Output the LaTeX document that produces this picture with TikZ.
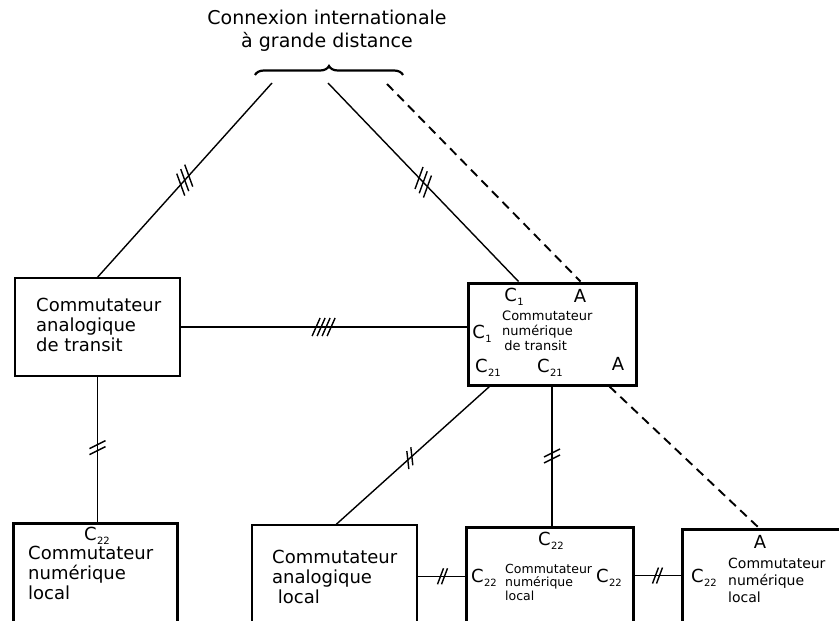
\documentclass[tikz,border=0pt]{standalone}
\usepackage{fontspec}
\setmainfont{DejaVu Sans}
\usetikzlibrary{calc,decorations.pathreplacing}
\newcommand\Cs[1]{C\kern0.3pt\raisebox{-4pt}{\fontsize{10}{10}\selectfont #1}}
\newcommand\hatchmk[6]{%
  \foreach \k in {1,...,#2}{%
    \pgfmathsetmacro\hoff{\k-(#2+1)/2}%
    \pgfmathsetmacro\hxa{\hoff*(#3)-(#5)}%
    \pgfmathsetmacro\hya{\hoff*(#4)-(#6)}%
    \pgfmathsetmacro\hxb{\hoff*(#3)+(#5)}%
    \pgfmathsetmacro\hyb{\hoff*(#4)+(#6)}%
    \draw[hatchline] ($(#1)+(\hxa,\hya)$) -- ($(#1)+(\hxb,\hyb)$);
  }}
\begin{document}
\begin{tikzpicture}[x=1pt,y=-1pt,
  thinbox/.style={draw, line width=1.4pt, inner sep=0pt},
  thickbox/.style={draw, line width=3pt, inner sep=0pt},
  conn/.style={line width=1.4pt},
  dashconn/.style={line width=1.9pt, dash pattern=on 9pt off 6pt},
  hatchline/.style={line width=1.4pt},
  lbl/.style={inner sep=0pt, font=\fontsize{18}{18}\selectfont},
  bigtext/.style={inner sep=0pt, align=left, anchor=west, font=\fontsize{18}{20}\selectfont},
  smalltext/.style={inner sep=0pt, align=left, anchor=west}]
\useasboundingbox (0,0) rectangle (839,621);
\fill[white] (0,0) rectangle (839,621);
\clip (0,0) rectangle (839,621);

% title and brace
\node[inner sep=0pt, align=center, font=\fontsize{19}{23}\selectfont] (title) at (327,31) {Connexion internationale\\à grande distance};
\coordinate (B1) at (255,75);
\coordinate (B2) at (403,75);
\draw[decorate, decoration={brace, amplitude=9pt}, line width=2.2pt] (B1) -- (B2);
\coordinate (L1) at (272,83);
\coordinate (L2) at (328,83);
\coordinate (L3) at (387,84);

% boxes
\node[thinbox, minimum width=165, minimum height=98] (AT) at (97.5,327) {};
\node[thickbox, minimum width=168, minimum height=102] (DT) at (552,334) {};
\node[thickbox, minimum width=164, minimum height=127] (DL1) at (95,586.5) {};
\node[thinbox, minimum width=165, minimum height=125] (AL) at (334.5,587.5) {};
\node[thickbox, minimum width=167, minimum height=123] (DL2) at (549.5,588.5) {};
\node[thickbox, minimum width=178, minimum height=121] (DL3) at (771,589.5) {};

% box texts
\node[bigtext] (ATt) at (36,325) {Commutateur\\analogique\\de transit};
\node[bigtext] (ALt) at (272,577) {Commutateur\\analogique\\\ local};
\node[bigtext] (DL1t) at (28,573) {Commutateur\\numérique\\local};
\node[smalltext, font=\fontsize{13}{15}\selectfont] (DTt) at (502,331) {Commutateur\\numérique\\\,de transit};
\node[smalltext, font=\fontsize{12.5}{13.5}\selectfont] (DL2t) at (505,582) {Commutateur\\numérique\\local};
\node[smalltext, font=\fontsize{14}{17}\selectfont] (DL3t) at (728,580) {Commutateur\\numérique\\local};

% labels
\node[lbl] (dtc1a) at (514,297) {\Cs{1}};
\node[lbl] (dtaa) at (580,296) {A};
\node[lbl] (dtc1b) at (482,334) {\Cs{1}};
\node[lbl] (dtc21a) at (488,368) {\Cs{21}};
\node[lbl] (dtc21b) at (550,368) {\Cs{21}};
\node[lbl] (dtab) at (618,364) {A};
\node[lbl] (dl1c) at (97,536) {\Cs{22}};
\node[lbl] (dl2c) at (551,541) {\Cs{22}};
\node[lbl] (dl2l) at (484,578) {\Cs{22}};
\node[lbl] (dl2r) at (609,578) {\Cs{22}};
\node[lbl] (dl3a) at (760,542) {A};
\node[lbl] (dl3c) at (704,578) {\Cs{22}};

% connectors
\draw[conn] (L1) -- (AT.north) coordinate[pos=0.5] (h1);
\draw[conn] (L2) -- ($(DT.north west)+(52,0)$) coordinate[pos=0.5] (h2);
\draw[dashconn] (L3) -- ($(DT.north west)+(114,0)$);
\draw[conn] (AT.east) -- (AT.east -| DT.west) coordinate[pos=0.5] (h3);
\draw[conn] (AT.south) -- (AT.south |- DL1.north) coordinate[pos=0.49] (h4);
\draw[conn] ($(DT.south west)+(23,0)$) -- ($(AL.north west)+(85,0)$) coordinate[pos=0.52] (h5);
\draw[conn] (DT.south) -- (DT.south |- DL2.north) coordinate[pos=0.5] (h6);
\draw[dashconn] ($(DT.south west)+(143,0)$) -- ($(DL3.north west)+(78,0)$);
\draw[conn] ($(AL.north east)+(0,52)$) coordinate (e1) -- (e1 -| DL2.west) coordinate[pos=0.53] (h7);
\draw[conn] ($(DL2.north east)+(0,50)$) coordinate (e2) -- (e2 -| DL3.west) coordinate[pos=0.5] (h8);

% hatches
\hatchmk{h1}{3}{-4}{4.5}{4}{11}
\hatchmk{h2}{3}{4.2}{4.3}{-4}{11}
\hatchmk{h3}{4}{5}{0}{-4}{9}
\hatchmk{h4}{2}{0}{6}{8}{-4}
\hatchmk{h5}{2}{-4}{3.8}{1}{9}
\hatchmk{h6}{2}{0}{6}{8}{-4}
\hatchmk{h7}{2}{4}{0}{-3}{8}
\hatchmk{h8}{2}{4}{0}{-3}{8}
\end{tikzpicture}
\end{document}
